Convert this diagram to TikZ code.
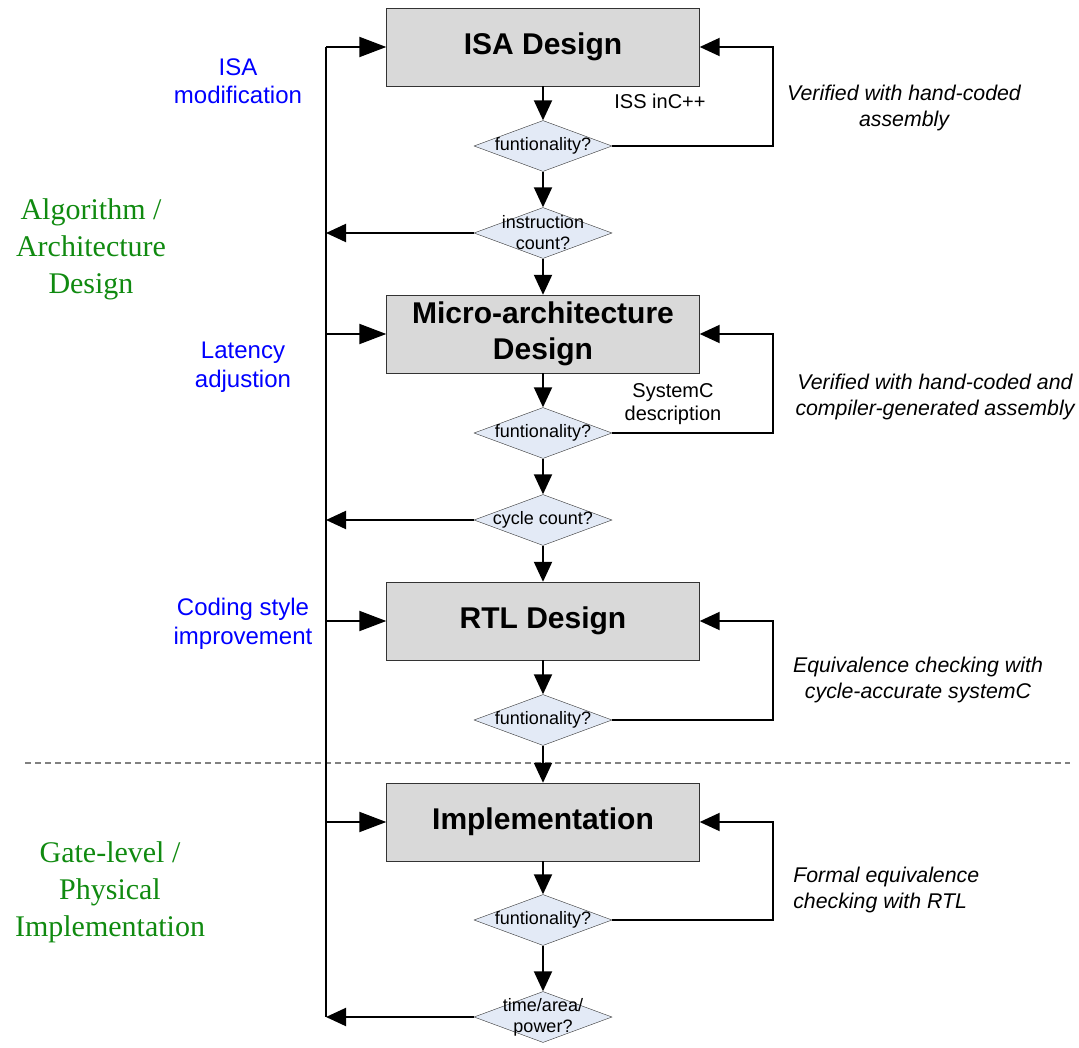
\documentclass[tikz,border=0pt]{standalone}
\usepackage{fontspec}
\setmainfont{Liberation Sans}
\newfontfamily\timesfont{Liberation Serif}
\usepackage{tikz}
\usetikzlibrary{shapes.geometric,arrows.meta}
\definecolor{boxgray}{HTML}{D9D9D9}
\definecolor{checkblue}{HTML}{E3EAF6}
\definecolor{edgegray}{HTML}{333333}
\definecolor{phasegreen}{HTML}{108A10}

\tikzset{
  stage/.style={draw=edgegray, thin, fill=boxgray, minimum width=313pt, minimum height=78pt,
    align=center, font=\fontsize{30}{36}\selectfont\bfseries},
  check/.style={draw=edgegray, thin, fill=checkblue, shape=diamond, aspect=2.7,
    minimum width=138pt, minimum height=51pt, inner xsep=-12pt, inner ysep=-6pt,
    align=center, font=\fontsize{18}{21}\selectfont},
  note/.style={align=center, font=\fontsize{20}{23}\selectfont},
  remark/.style={align=center, font=\fontsize{21.3}{26}\selectfont\itshape},
  tweak/.style={align=center, text=blue, font=\fontsize{24}{28.5}\selectfont},
  phase/.style={align=center, text=phasegreen, font=\fontsize{30}{37}\selectfont\timesfont},
}

\begin{document}
\begin{tikzpicture}[x=1pt, y=-1pt, >={Triangle[length=20pt,width=18pt]}, line width=2pt]
				\useasboundingbox (0,0) rectangle (1079,1048);
				
				% design stages
				\node[stage] at (543,47) (isa) {ISA Design};
				\node[stage] at (543,334) (micro) {Micro-architecture\\Design};
				\node[stage] at (543,621) (rtl) {RTL Design};
				\node[stage] at (543,822) (impl) {Implementation};
				
				% checks
				\node[check] at (543,146) (f1) {funtionality?};
				\node[check] at (543,233) (icount) {instruction\\count?};
				\node[check] at (543,433) (f2) {funtionality?};
				\node[check] at (543,520) (ccount) {cycle count?};
				\node[check] at (543,720) (f3) {funtionality?};
				\node[check] at (543,920) (f4) {funtionality?};
				\node[check] at (543,1017) (tap) {time/area/\\power?};
				
				\coordinate (bustop) at (326,47);
				\coordinate (busbot) at (326,1017);
				\coordinate (loop) at (773,0);
				
				% labels
				\node[note] at (660,101) (iss) {ISS inC++};
				\node[note] at (673,404) (sysc) {SystemC\\description};
				\node[tweak] at (238,81) (isamod) {ISA\\modification};
				\node[tweak] at (243,367) (latency) {Latency\\adjustion};
				\node[tweak] at (243,624) (coding) {Coding style\\improvement};
				\node[phase] at (91,249) (algo) {Algorithm /\\Architecture\\Design};
				\node[phase] at (110,892) (gate) {Gate-level /\\Physical\\Implementation};
				\node[remark] at (904,108) (ver1) {Verified with hand-coded\\assembly};
				\node[remark] at (935,397) (ver2) {Verified with hand-coded and\\compiler-generated assembly};
				\node[remark] at (918,680) (equiv) {Equivalence checking with\\cycle-accurate systemC};
				\node[remark, align=left, anchor=west] at (789,890) (formal) {Formal equivalence\\checking with RTL};
				
				\draw[gray, line width=1.3pt, dash pattern=on 6pt off 4pt] (25,763) -- (1070,763);
				
				% main flow
				\draw[->] (isa) -- (f1);
				\draw[->] (f1) -- (icount);
				\draw[->] (icount) -- (micro);
				\draw[->] (micro) -- (f2);
				\draw[->] (f2) -- (ccount);
				\draw[->] (ccount) -- (rtl);
				\draw[->] (rtl) -- (f3);
				\draw[->] (f3) -- (impl);
				\draw[->] (impl) -- (f4);
				\draw[->] (f4) -- (tap);
				
				% return path on the left
				\draw (bustop) -- (busbot);
				\draw[-{Triangle[length=27pt,width=20pt]}] (bustop) -- (isa.west);
				\draw[-{Triangle[length=27pt,width=20pt]}] (micro.west -| bustop) -- (micro.west);
				\draw[-{Triangle[length=27pt,width=20pt]}] (rtl.west -| bustop) -- (rtl.west);
				\draw[-{Triangle[length=27pt,width=20pt]}] (impl.west -| bustop) -- (impl.west);
				\draw[->] (icount.west) -- (icount.west -| bustop);
				\draw[->] (ccount.west) -- (ccount.west -| bustop);
				\draw[->] (tap.west) -- (busbot);
				
				% verification loops on the right
				\draw[->] (f1.east) -- (f1.east -| loop) |- (isa.east);
				\draw[->] (f2.east) -- (f2.east -| loop) |- (micro.east);
				\draw[->] (f3.east) -- (f3.east -| loop) |- (rtl.east);
				\draw[->] (f4.east) -- (f4.east -| loop) |- (impl.east);
			\end{tikzpicture}
\end{document}
